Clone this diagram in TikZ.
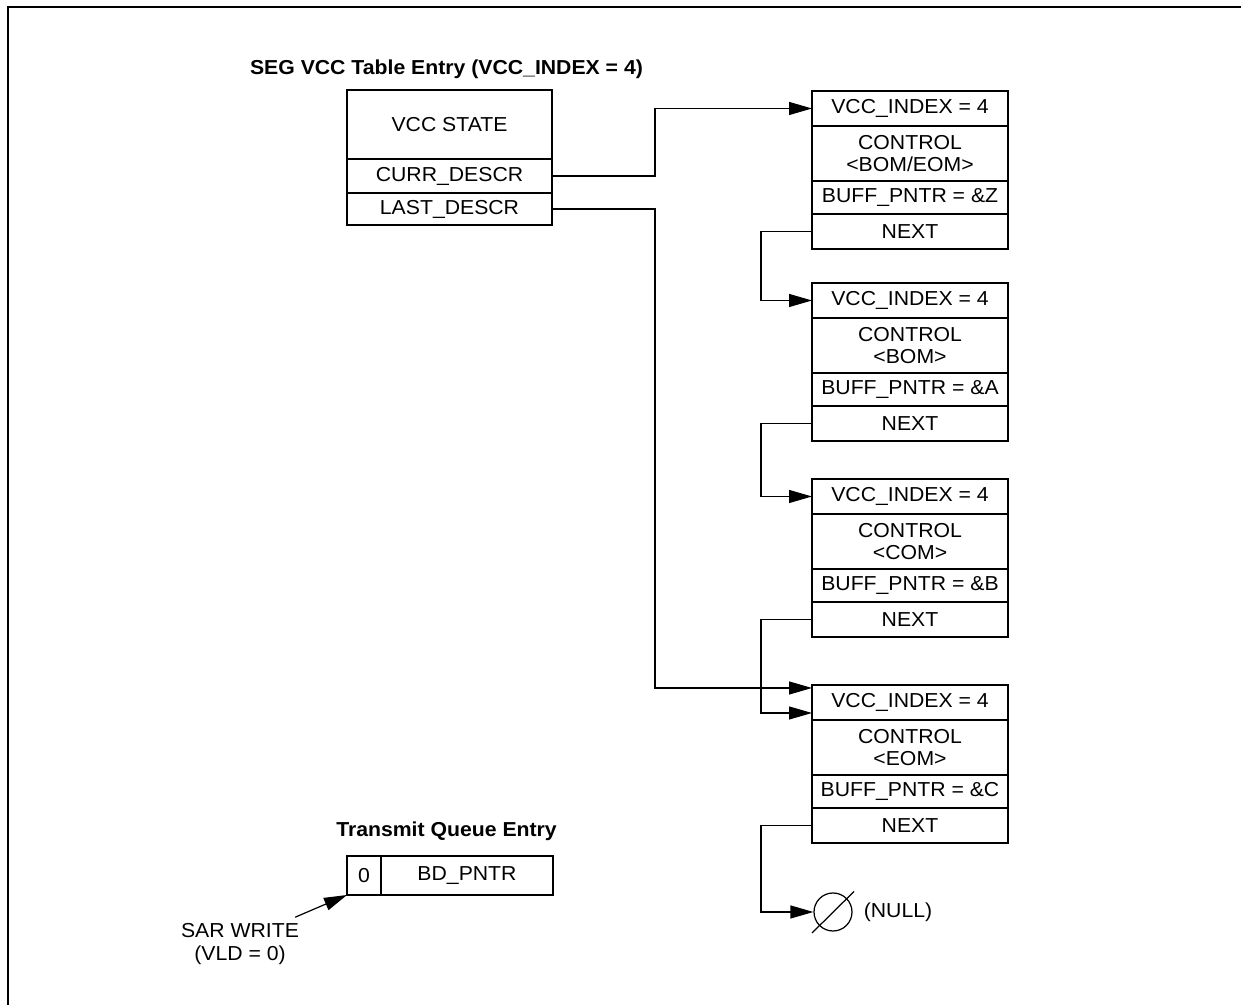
\documentclass[tikz,border=0pt]{standalone}
\usepackage{fontspec}
\setmainfont[FakeStretch=1.05]{Liberation Sans}
\usetikzlibrary{positioning, arrows.meta, calc}
\tikzset{>={Triangle[length=0.46cm,width=0.26cm]}}

\begin{document}
\begin{tikzpicture}[font=\fontsize{11.5}{13}\selectfont,
    row/.style={draw, line width=0.8pt, minimum width=3.92cm, inner sep=0pt,
      outer sep=0pt, align=center},
    frame/.style={line width=1.4pt},
    link/.style={line width=0.7pt},
    title/.style={font=\fontsize{11.5}{13}\selectfont\bfseries}]
    \useasboundingbox (0,0) rectangle (24.82,20.1);
    % page frame (top and left only)
    \draw[line width=1.1pt] (0.16,0) -- (0.16,19.96) -- (24.82,19.96);
    % SEG VCC table entry
    \node[title] (segtitle) at (8.93,18.72) {SEG VCC Table Entry (VCC\_INDEX = 4)};
    \node[row, minimum width=4.1cm, minimum height=1.38cm] (state) at (8.99,17.61) {VCC STATE};
    \node[row, minimum width=4.1cm, minimum height=0.68cm, below=0pt of state] (curr) {CURR\_DESCR};
    \node[row, minimum width=4.1cm, minimum height=0.64cm, below=0pt of curr] (last) {LAST\_DESCR};
    \draw[frame] (state.north west) rectangle (last.south east);
    % descriptor chain
    \foreach \i/\top/\ctl/\buf in {1/18.28/{BOM/EOM}/Z, 2/14.44/BOM/A, 3/10.52/COM/B, 4/6.40/EOM/C} {
      \node[row, minimum height=0.7cm, anchor=north] (d\i-idx) at (18.2,\top) {VCC\_INDEX = 4};
      \node[row, minimum height=1.1cm, below=0pt of d\i-idx] (d\i-ctl) {CONTROL\\<\ctl>};
      \node[row, minimum height=0.66cm, below=0pt of d\i-ctl] (d\i-buf) {BUFF\_PNTR = \&\buf};
      \node[row, minimum height=0.7cm, below=0pt of d\i-buf] (d\i-nxt) {NEXT};
      \draw[frame] (d\i-idx.north west) rectangle (d\i-nxt.south east);
    }
    % pointers out of the table entry
    \draw[link,->] (curr.east) -- ++(2.06,0) |- (d1-idx.west);
    \draw[link,->] (last.east) -- ++(2.06,0) |- ([yshift=0.29cm]d4-idx.west);
    % next links
    \draw[link,->] (d1-nxt.west) -- ++(-1.02,0) |- (d2-idx.west);
    \draw[link,->] (d2-nxt.west) -- ++(-1.02,0) |- (d3-idx.west);
    \draw[link,->] (d3-nxt.west) -- ++(-1.02,0) |- ([yshift=-0.21cm]d4-idx.west);
    % null end
    \node[draw, circle, link, minimum size=0.76cm, inner sep=0pt] (null) at (16.66,1.86) {};
    \draw[link] ($(null.center)+(-0.42,-0.42)$) -- ($(null.center)+(0.42,0.41)$);
    \node[right=0.1cm of null] (nulltxt) {(NULL)};
    \draw[link,->] (d4-nxt.west) -- ++(-1.02,0) |- (null.west);
    % transmit queue entry
    \node[title] (tqtitle) at (8.93,3.48) {Transmit Queue Entry};
    \node[row, minimum width=0.68cm, minimum height=0.78cm] (vld) at (7.28,2.59) {0};
    \node[row, minimum width=3.44cm, minimum height=0.78cm, right=0pt of vld] (bdptr) {BD\_PNTR};
    \draw[frame] (vld.north west) rectangle (bdptr.south east);
    \node[align=center] (sarwrite) at (4.8,1.22) {SAR WRITE\\(VLD = 0)};
    \draw[link,->] ([xshift=-0.2cm]sarwrite.north east) -- (vld.south west);
\end{tikzpicture}
\end{document}
